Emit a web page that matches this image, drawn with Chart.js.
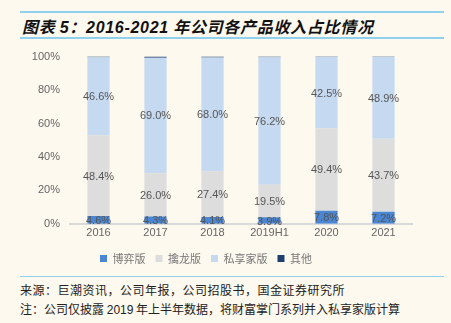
<!DOCTYPE html>
<html>
<head>
<meta charset="utf-8">
<script src="https://cdn.jsdelivr.net/npm/chart.js@4"></script>
<style>
  body { margin: 0; background: #fdf9ef; width: 451px; height: 323px; overflow: hidden; position: relative; font-family: "Noto Sans CJK SC", sans-serif; }
  .rule { position: absolute; left: 20px; width: 424px; height: 2px; background: #8fd0ee; }
  #title { position: absolute; left: 22px; top: 14px; font-size: 16px; font-weight: bold; font-style: italic; color: #111; letter-spacing: 0.7px; }
  #title .num { font-family: "Liberation Sans", Arial, sans-serif; }
  .note { position: absolute; left: 20px; font-size: 12px; color: #222; }
  .note .num { font-family: "Liberation Sans", Arial, sans-serif; }
  #wrap { position: absolute; left: 0; top: 40px; width: 451px; height: 234px; }
</style>
</head>
<body>
<div class="rule" style="top:11px"></div>
<div id="title">图表 <span class="num">5</span>：<span class="num">2016-2021</span> 年公司各产品收入占比情况</div>
<div class="rule" style="top:37px"></div>
<div id="wrap"><canvas id="chart"></canvas></div>
<div class="rule" style="top:276px;height:1px"></div>
<div class="note" style="top:281px;letter-spacing:0.5px">来源：巨潮资讯，公司年报，公司招股书，国金证券研究所</div>
<div class="note" style="top:300px">注：公司仅披露 <span class="num">2019</span> 年上半年数据，将财富掌门系列并入私享家版计算</div>
<script>
// -------------------- DATA --------------------
const years = ["2016", "2017", "2018", "2019H1", "2020", "2021"];
const boyi = [4.6, 4.3, 4.1, 3.9, 7.8, 7.2];        // 博弈版
const qinlong = [48.4, 26.0, 27.4, 19.5, 49.4, 43.7]; // 擒龙版
const sixiang = [46.6, 69.0, 68.0, 76.2, 42.5, 48.9]; // 私享家版
const other = [0.4, 0.7, 0.5, 0.4, 0.3, 0.2];        // 其他
const yTicks = ["0%", "20%", "40%", "60%", "80%", "100%"];

// -------------------- LABEL PLUGIN --------------------
const barLabels = {
  id: "barLabels",
  afterDatasetsDraw(chart) {
    const ctx = chart.ctx;
    ctx.save();
    ctx.font = "11px 'Liberation Sans', Arial, sans-serif";
    ctx.fillStyle = "#555";
    ctx.textAlign = "center";
    ctx.textBaseline = "middle";
    [0, 1, 2].forEach((di) => {
      const meta = chart.getDatasetMeta(di);
      meta.data.forEach((bar, i) => {
        const v = chart.data.datasets[di].data[i];
        const yMid = (bar.y + bar.base) / 2;
        ctx.fillText(v.toFixed(1) + "%", bar.x, yMid + 1);
      });
    });
    ctx.restore();
  }
};

// -------------------- CHART --------------------
const ctx = document.getElementById("chart").getContext("2d");

const bw = 0.39;
new Chart(ctx, {
  type: "bar",
  data: {
    labels: years,
    datasets: [
      { label: "博弈版", data: boyi, backgroundColor: "#4a86d4" },
      { label: "擒龙版", data: qinlong, backgroundColor: "#dddddd" },
      { label: "私享家版", data: sixiang, backgroundColor: "#c5d9f1" },
      { label: "其他", data: other, backgroundColor: "#1f3f6e" }
    ].map((d) => Object.assign(d, { categoryPercentage: 1, barPercentage: bw, borderWidth: 0 }))
  },
  options: {
    responsive: true,
    maintainAspectRatio: false,
    animation: false,
    layout: { padding: { top: 12, right: 39, left: 0, bottom: 0 } },
    plugins: {
      tooltip: { enabled: false },
      legend: {
        position: "bottom",
        labels: {
          boxWidth: 7,
          boxHeight: 7,
          padding: 10,
          color: "#777",
          font: { size: 11, family: "'Noto Sans CJK SC', sans-serif" }
        }
      }
    },
    scales: {
      x: {
        stacked: true,
        grid: { display: false, drawTicks: false },
        border: { color: "#d9d9d9", width: 2 },
        ticks: { color: "#666", font: { size: 11, family: "'Liberation Sans', Arial, sans-serif" }, padding: 3 }
      },
      y: {
        stacked: true,
        min: 0,
        max: 100,
        afterFit: (scale) => { scale.width = 70; },
        grid: { display: false, drawTicks: false },
        border: { display: false },
        ticks: {
          stepSize: 20,
          padding: 10,
          color: "#666",
          font: { size: 11, family: "'Liberation Sans', Arial, sans-serif" },
          callback: (value) => yTicks[value / 20]
        }
      }
    }
  },
  plugins: [barLabels]
});
</script>
</body>
</html>
